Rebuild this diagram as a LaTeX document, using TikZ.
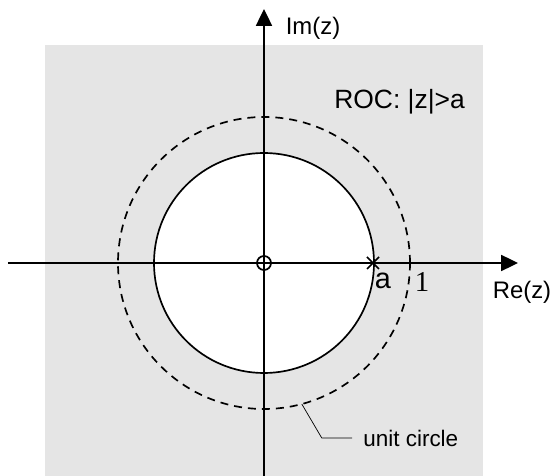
\documentclass[tikz,border=0pt]{standalone}
\usepackage{fontspec}
\setmainfont{Liberation Sans}
\newfontfamily\numfont{Liberation Serif}
\usepackage{xcolor}
\usepackage{tikz}
\usetikzlibrary{arrows.meta}
\definecolor{ROCGray}{RGB}{229,229,229}

\begin{document}
\begin{tikzpicture}[
      axis/.style={-{Triangle[length=0.42cm, width=0.4cm]}, line width=1.2pt},
      circ/.style={line width=1.2pt},
      lbl/.style={font=\fontsize{17}{20}\selectfont, inner sep=0pt}
    ]
    \useasboundingbox (-6.6,-5.325) rectangle (7.225,6.575);

    % region of convergence
    \fill[ROCGray] (-5.475,-5.325) rectangle (5.475,5.45);
    \coordinate (O) at (0,0);
    \draw[circ, fill=white] (O) circle (2.75);
    \draw[circ, dashed, dash pattern=on 0.2cm off 0.15cm] (O) circle (3.65);

    % axes
    \coordinate (xl) at (-6.4,0);
    \coordinate (xr) at (6.35,0);
    \coordinate (yb) at (0,-5.325);
    \coordinate (yt) at (0,6.35);
    \draw[axis] (xl) -- (xr);
    \draw[axis] (yb) -- (yt);

    % zero and pole
    \draw[circ] (O) circle (0.175);
    \coordinate (pole) at (2.725,0);
    \draw[circ] ([shift={(-0.15,-0.15)}]pole) -- ([shift={(0.15,0.15)}]pole)
                ([shift={(-0.15,0.15)}]pole) -- ([shift={(0.15,-0.15)}]pole);

    \node[lbl, font=\fontsize{20.5}{24}\selectfont] (pa)  at (2.975,-0.45) {a};
    \node[lbl, font=\fontsize{20.5}{24}\selectfont\numfont] (one) at (3.95,-0.475) {1};
    \node[lbl] (re)  at (6.45,-0.725) {Re(z)};
    \node[lbl] (im)  at (1.225,5.875) {Im(z)};
    \node[lbl, font=\fontsize{18.8}{22}\selectfont] (roc) at (3.39,4.02) {ROC: |z|>a};

    % unit circle callout
    \node[lbl, anchor=west, inner xsep=0.275cm,
          font=\fontsize{16}{19}\selectfont] (uc) at (2.2,-4.375) {unit circle};
    \draw[line width=0.5pt] (-75:3.65) -- ++(0.5,-0.85) -- (uc.west);
  \end{tikzpicture}
\end{document}
